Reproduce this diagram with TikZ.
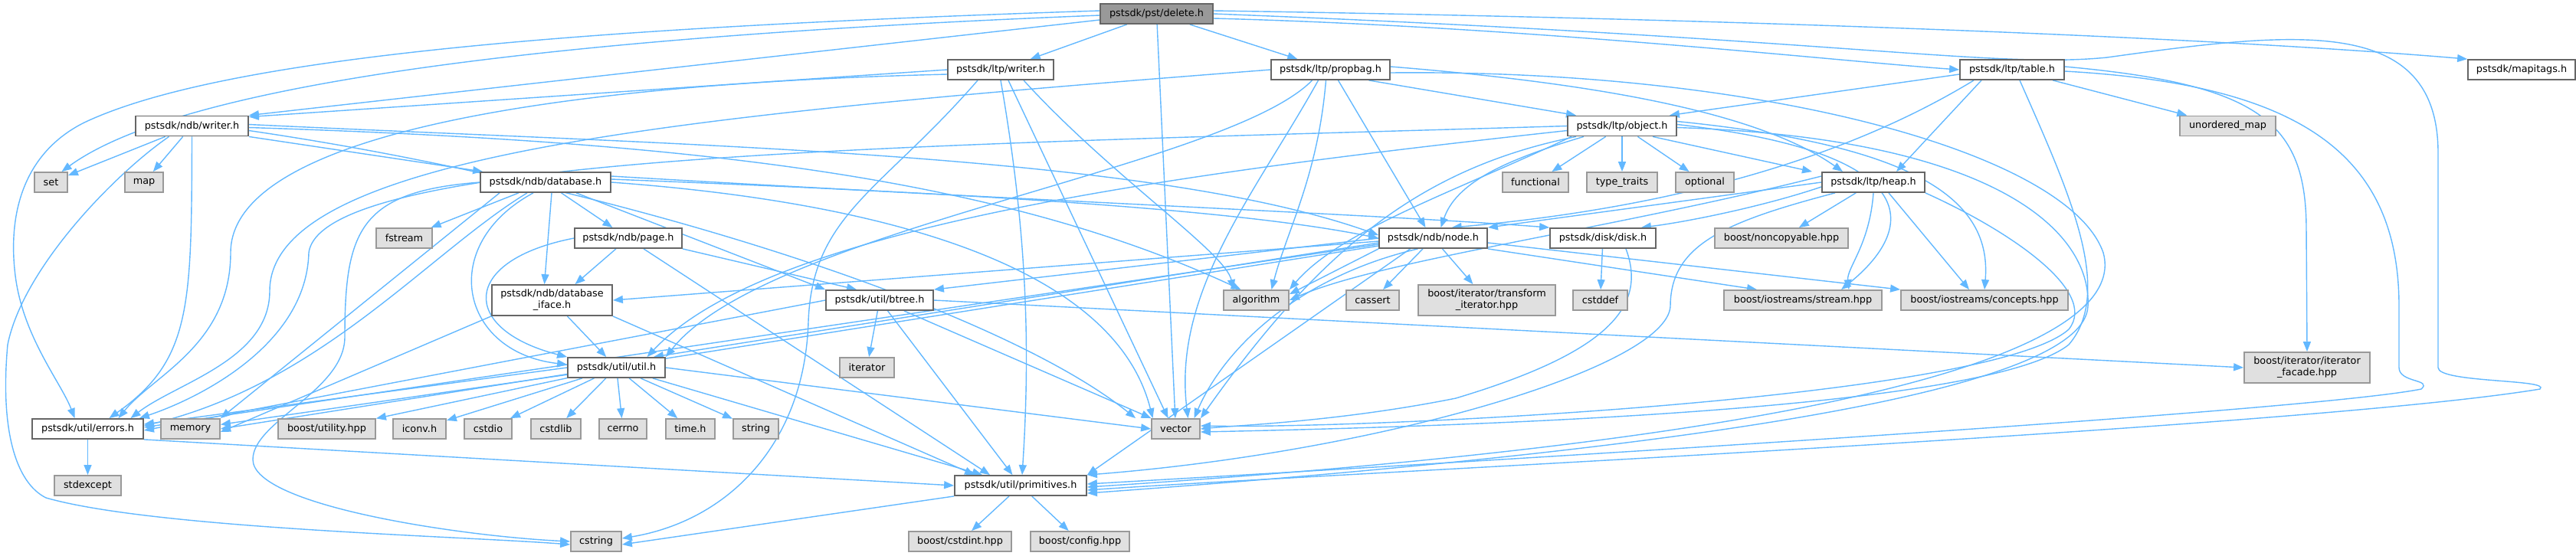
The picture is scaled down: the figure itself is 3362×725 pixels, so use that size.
\documentclass[tikz,border=0pt]{standalone}
\usepackage{fontspec}
\setmainfont{DejaVu Sans}
\usetikzlibrary{arrows.meta}
\definecolor{edgec}{HTML}{63B8FF}
\definecolor{boxb}{HTML}{666666}
\definecolor{extb}{HTML}{999999}
\definecolor{extf}{HTML}{E0E0E0}
\definecolor{mainf}{HTML}{999999}
\pgfdeclarelayer{bg}
\pgfsetlayers{bg,main}
\tikzset{
  e/.style={draw=edgec, line width=0.7pt, -{Triangle[length=6.5pt,width=5pt]}},
  box/.style={draw=boxb, fill=white, line width=0.9pt, rectangle, inner sep=1pt,
     minimum height=13pt, font=\fontsize{6.4}{7.5}\selectfont, align=center},
  ext/.style={box, draw=extb, fill=extf},
  mainbox/.style={box, draw=boxb, fill=mainf},
  two/.style={minimum height=20pt}
}
\begin{document}
\begin{tikzpicture}[x=0.5pt,y=-0.5pt]
\useasboundingbox (0,0) rectangle (3362,725);
% row 0
\node[mainbox, minimum width=73.5pt] (delete) at (1509.5,18) {pstsdk/pst/delete.h};
% row 1
\node[box, minimum width=69pt] (ltpwriter) at (1306,91) {pstsdk/ltp/writer.h};
\node[box, minimum width=77.5pt] (propbag) at (1736.5,91) {pstsdk/ltp/propbag.h};
\node[box, minimum width=68pt] (table) at (2626,91) {pstsdk/ltp/table.h};
\node[box, minimum width=70pt] (mapitags) at (3291,91) {pstsdk/mapitags.h};
% row 2
\node[box, minimum width=73.5pt] (ndbwriter) at (250.5,164.5) {pstsdk/ndb/writer.h};
\node[box, minimum width=71pt] (object) at (2117,164.5) {pstsdk/ltp/object.h};
\node[ext, minimum width=62.5pt] (umap) at (2907.5,164.5) {unordered\_map};
% row 3
\node[ext, minimum width=21.5pt] (set) at (66.5,238) {set};
\node[ext, minimum width=25pt] (map) at (188,238) {map};
\node[box, minimum width=85pt] (database) at (712,238) {pstsdk/ndb/database.h};
\node[ext, minimum width=43pt] (functional) at (2004,238) {functional};
\node[ext, minimum width=46pt] (typetraits) at (2117,238) {type\_traits};
\node[ext, minimum width=38pt] (optional) at (2225,238) {optional};
\node[box, minimum width=67pt] (heap) at (2445,238) {pstsdk/ltp/heap.h};
% row 4
\node[ext, minimum width=36.5pt] (fstream) at (527.5,311) {fstream};
\node[box, minimum width=70pt] (page) at (820,311) {pstsdk/ndb/page.h};
\node[box, minimum width=70.5pt] (node) at (1870.5,311) {pstsdk/ndb/node.h};
\node[box, minimum width=69pt] (disk) at (2092,311) {pstsdk/disk/disk.h};
\node[ext, minimum width=87pt] (noncopy) at (2325,311) {boost/noncopyable.hpp};
% row 5
\node[box, two, minimum width=78.5pt] (iface) at (720.5,392) {pstsdk/ndb/database\\\_iface.h};
\node[box, minimum width=70pt] (btree) at (1148,392) {pstsdk/util/btree.h};
\node[ext, minimum width=42.5pt] (algorithm) at (1639.5,392) {algorithm};
\node[ext, minimum width=34.5pt] (cassert) at (1791.5,392) {cassert};
\node[ext, two, minimum width=89.5pt] (transform) at (1940.5,392) {boost/iterator/transform\\\_iterator.hpp};
\node[ext, minimum width=35.5pt] (cstddef) at (2088.5,392) {cstddef};
\node[ext, minimum width=103pt] (stream) at (2353,392) {boost/iostreams/stream.hpp};
\node[ext, minimum width=109pt] (concepts) at (2590,392) {boost/iostreams/concepts.hpp};
% row 6
\node[box, minimum width=63.5pt] (util) at (804.5,480) {pstsdk/util/util.h};
\node[ext, minimum width=35.5pt] (iterator) at (1131.5,480) {iterator};
\node[ext, two, minimum width=82pt] (facade) at (3011,480) {boost/iterator/iterator\\\_facade.hpp};
% row 7
\node[box, minimum width=72.5pt] (errors) at (114.5,560) {pstsdk/util/errors.h};
\node[ext, minimum width=38.5pt] (memory) at (248.5,560) {memory};
\node[ext, minimum width=63.5pt] (utility) at (426.5,560) {boost/utility.hpp};
\node[ext, minimum width=34.5pt] (iconv) at (547.5,560) {iconv.h};
\node[ext, minimum width=31pt] (cstdio) at (637,560) {cstdio};
\node[ext, minimum width=32.5pt] (cstdlib) at (725.5,560) {cstdlib};
\node[ext, minimum width=31pt] (cerrno) at (813,560) {cerrno};
\node[ext, minimum width=32pt] (timeh) at (901,560) {time.h};
\node[ext, minimum width=29.5pt] (string) at (986.5,560) {string};
\node[ext, minimum width=31.5pt] (vector) at (1534.5,560) {vector};
% row 8
\node[ext, minimum width=43.5pt] (stdexcept) at (114.5,634) {stdexcept};
\node[box, minimum width=86pt] (prim) at (1332,634) {pstsdk/util/primitives.h};
% row 9
\node[ext, minimum width=33pt] (cstring) at (778,707) {cstring};
\node[ext, minimum width=67pt] (cstdint) at (1253,707) {boost/cstdint.hpp};
\node[ext, minimum width=64.5pt] (config) at (1409.5,707) {boost/config.hpp};

\begin{pgfonlayer}{bg}
% delete.h
\draw[e] (delete) -- (ltpwriter);
\draw[e] (delete) -- (propbag);
\draw[e] ([yshift=-3pt]delete.east) .. controls (2000,35) and (2400,80) .. (table.west);
\draw[e] ([yshift=2pt]delete.east) .. controls (2300,25) and (2900,50) .. (mapitags.north west);
\draw[e] ([yshift=-4pt]delete.west) -- (ndbwriter.north east);
\draw[e] ([yshift=-1pt]delete.west) .. controls (800,45) and (250,100) .. ([xshift=7pt]set.north);
\draw[e] ([yshift=2pt]delete.west) .. controls (800,35) and (300,70) .. (110,160) .. controls (30,200) and (10,280) .. (20,360) .. controls (30,440) and (80,500) .. ([xshift=-8.5pt]errors.north);
\draw[e] (delete) -- (vector);
\draw[e] (delete.east) .. controls (2400,50) and (2600,90) .. (2750,75) .. controls (3000,40) and (3182,20) .. (3182,200) -- (3182,480) .. controls (3182,500) and (3330,495) .. (3315,508) .. controls (3000,560) and (1700,620) .. ([yshift=-3pt]prim.east);
% ltp/writer.h
\draw[e] (ltpwriter.west) -- ([yshift=-1pt]ndbwriter.north east);
\draw[e] ([yshift=-3pt]ltpwriter.west) .. controls (700,110) and (301,180) .. (301,330) .. controls (301,450) and (200,490) .. ([xshift=20pt]errors.north);
\draw[e] ([xshift=-15pt]ltpwriter.south) .. controls (1150,250) and (1060,280) .. (1055,420) .. controls (1050,580) and (950,680) .. ([yshift=2pt]cstring.east);
\draw[e] (ltpwriter.south) .. controls (1340,300) and (1345,450) .. ([xshift=1pt]prim.north);
\draw[e] ([xshift=5pt]ltpwriter.south) -- ([xshift=-5pt]vector.north);
\draw[e] ([xshift=15pt]ltpwriter.south) .. controls (1450,230) and (1600,330) .. ([xshift=-15pt]algorithm.north);
% propbag
\draw[e] ([xshift=25pt]propbag.south) -- ([xshift=-30pt]object.north);
\draw[e] ([yshift=2pt]propbag.east) .. controls (2100,110) and (2300,150) .. ([xshift=-20pt]heap.north);
\draw[e] ([xshift=5pt]propbag.south) -- ([xshift=-5pt]node.north);
\draw[e] ([xshift=-8pt]propbag.south) .. controls (1640,250) and (1530,380) .. ([xshift=8pt]vector.north);
\draw[e] ([xshift=-3pt]propbag.south) .. controls (1720,230) and (1680,300) .. ([xshift=10pt]algorithm.north);
\draw[e] ([xshift=-12pt]propbag.south) .. controls (1600,220) and (1000,300) .. (util.north east);
\draw[e] (propbag.west) .. controls (900,150) and (352,200) .. (352,380) .. controls (352,470) and (230,500) .. ([xshift=28pt]errors.north);
\draw[e] ([yshift=-2pt]propbag.east) .. controls (2300,90) and (2700,200) .. (2745,330) .. controls (2770,420) and (2600,560) .. ([yshift=-1pt]prim.east);
% table
\draw[e] ([yshift=-3pt]table.west) -- ([xshift=-5pt]object.north east);
\draw[e] ([xshift=-20pt]table.south) -- ([xshift=15pt]heap.north);
\draw[e] ([xshift=-25pt]table.south) .. controls (2420,200) and (2200,270) .. (node.30);
\draw[e] (table) -- (umap);
\draw[e] ([yshift=2pt]table.east) .. controls (2950,110) and (3010,160) .. (3010,300) -- (facade.north);
\draw[e] ([yshift=-1pt]table.east) .. controls (3000,110) and (3131,200) .. (3131,400) -- (3131,480) .. controls (3131,500) and (3175,495) .. (3160,508) .. controls (3000,540) and (1800,610) .. ([yshift=1pt]prim.east);
\draw[e] ([xshift=5pt]table.south) .. controls (2700,250) and (2760,380) .. (2700,450) .. controls (2600,530) and (2000,555) .. ([yshift=-2pt]vector.east);
% object
\draw[e] (object) -- (functional);
\draw[e] (object) -- (typetraits);
\draw[e] (object) -- (optional);
\draw[e] ([xshift=20pt]object.south) -- ([xshift=-40pt]heap.north);
\draw[e] ([xshift=-25pt]object.south) .. controls (1960,210) and (1900,240) .. ([xshift=5pt]node.north);
\draw[e] ([xshift=-30pt]object.south) .. controls (1850,220) and (1720,330) .. (vector.north east);
\draw[e] (object.west) .. controls (1200,190) and (420,200) .. (403,330) .. controls (400,450) and (260,520) .. ([xshift=-3pt]errors.north east);
\draw[e] ([yshift=-3pt]object.west) .. controls (1500,230) and (1000,300) .. ([xshift=20pt]util.north);
\draw[e] ([yshift=3pt]object.east) .. controls (2500,190) and (2600,260) .. (concepts.north);
\draw[e] ([yshift=1pt]object.east) .. controls (2520,200) and (2500,300) .. ([xshift=25pt]stream.north);
\draw[e] ([yshift=-1pt]object.east) .. controls (2600,180) and (2730,300) .. (2725,400) .. controls (2720,500) and (2300,580) .. ([yshift=-5pt]prim.east);
\draw[e] ([xshift=-33pt]object.south) .. controls (1900,250) and (1750,300) .. (algorithm.north east);
% heap
\draw[e] (heap.west) -- (node.north east);
\draw[e] ([yshift=-3pt]heap.west) .. controls (2300,270) and (2200,290) .. ([xshift=-10pt]disk.north east);
\draw[e] (heap) -- (noncopy);
\draw[e] (heap.south) .. controls (2440,320) and (2410,350) .. ([xshift=30pt]stream.north);
\draw[e] ([xshift=10pt]heap.south) -- ([xshift=-10pt]concepts.north);
\draw[e] ([yshift=4pt]heap.west) .. controls (2100,300) and (1800,340) .. (algorithm.east);
\draw[e] (heap.south east) .. controls (2620,300) and (2740,380) .. (2700,430) .. controls (2600,520) and (1800,560) .. ([yshift=2pt]vector.east);
\draw[e] ([xshift=-25pt]heap.south) .. controls (2250,290) and (2180,320) .. (2180,400) .. controls (2175,480) and (1800,590) .. (prim.north east);
% node
\draw[e] (node) -- (cassert);
\draw[e] (node) -- (transform);
\draw[e] (node.south west) -- ([yshift=-3pt]algorithm.north east);
\draw[e] ([xshift=-10pt]node.south) .. controls (1700,360) and (1600,450) .. ([xshift=12pt]vector.north);
\draw[e] (node.west) -- (btree.north east);
\draw[e] ([yshift=-2pt]node.west) -- (iface.east);
\draw[e] ([yshift=-3pt]node.west) -- ([xshift=-8pt]util.north east);
\draw[e] ([yshift=-4pt]node.west) -- ([yshift=1pt]errors.east);
\draw[e] ([yshift=-5pt]node.west) -- (memory.east);
\draw[e] ([xshift=-15pt]node.south) -- (prim.north east);
\draw[e] (node.south east) -- ([xshift=-30pt]stream.north);
\draw[e] ([yshift=-3pt]node.east) -- (concepts.north west);
% disk
\draw[e] (disk) -- (cstddef);
\draw[e] ([xshift=15pt]disk.south) .. controls (2150,400) and (2100,460) .. (1900,520) .. controls (1750,550) and (1620,555) .. (vector.east);
% database
\draw[e] (database) -- (fstream);
\draw[e] (database) -- (page);
\draw[e] ([xshift=4pt]database.south) -- ([xshift=-5pt]iface.north);
\draw[e] ([xshift=-8pt]database.south) .. controls (570,320) and (600,460) .. ([yshift=2pt]util.west);
\draw[e] ([xshift=-12pt]database.south) .. controls (560,330) and (420,500) .. ([yshift=2pt]errors.east);
\draw[e] (database.west) .. controls (470,250) and (450,300) .. (450,440) .. controls (450,510) and (330,550) .. (330,600) .. controls (330,660) and (600,700) .. (cstring.west);
\draw[e] ([yshift=2pt]database.east) .. controls (1200,250) and (1600,270) .. (node.west);
\draw[e] ([yshift=4pt]database.east) .. controls (1300,260) and (1800,280) .. (disk.north west);
\draw[e] ([xshift=20pt]database.south) -- (btree.north west);
\draw[e] (database.east) .. controls (1100,260) and (1450,330) .. ([xshift=-15pt]vector.north);
\draw[e] ([xshift=-30pt]database.south) -- (memory.north east);
% page
\draw[e] (page) -- ([xshift=15pt]iface.north);
\draw[e] (page.west) .. controls (600,340) and (600,430) .. (util.north west);
\draw[e] (page.south east) -- ([xshift=-15pt]btree.north);
\draw[e] ([xshift=10pt]page.south) -- ([xshift=-20pt]prim.north);
% ndb/writer.h
\draw[e] (ndbwriter) -- (set);
\draw[e] (ndbwriter) -- (map);
\draw[e] (ndbwriter.south east) -- ([xshift=2pt]database.north west);
\draw[e] (ndbwriter.south) .. controls (250,400) and (250,470) .. ([xshift=14pt]errors.north);
\draw[e] ([xshift=-15pt]ndbwriter.south) .. controls (150,227) and (30,350) .. (10,450) .. controls (0,560) and (20,630) .. (60,650) .. controls (200,690) and (600,700) .. ([yshift=-2pt]cstring.west);
\draw[e] ([yshift=1pt]ndbwriter.east) .. controls (900,190) and (1500,200) .. ([yshift=2pt]node.west);
\draw[e] ([yshift=-1pt]ndbwriter.east) .. controls (900,185) and (1300,230) .. ([xshift=-10pt]algorithm.north);
\draw[e] ([yshift=-3pt]ndbwriter.east) .. controls (800,240) and (1300,400) .. ([xshift=-10pt]vector.north west);
% database_iface
\draw[e] (iface.south west) -- ([yshift=-2pt]memory.east);
\draw[e] (iface) -- (util);
\draw[e] (iface.south east) -- ([xshift=-30pt]prim.north);
% btree
\draw[e] (btree) -- (iterator);
\draw[e] (btree) -- (vector);
\draw[e] (btree) -- (prim);
\draw[e] (btree.east) -- (facade.west);
\draw[e] (btree.west) -- ([yshift=-1pt]errors.east);
% util
\draw[e] (util.west) -- ([yshift=3pt]errors.east);
\draw[e] (util) -- (memory);
\draw[e] (util) -- (utility);
\draw[e] (util) -- (iconv);
\draw[e] (util) -- (cstdio);
\draw[e] (util) -- (cstdlib);
\draw[e] (util) -- (cerrno);
\draw[e] (util) -- (timeh);
\draw[e] (util) -- (string);
\draw[e] (util.east) -- (vector.west);
\draw[e] (util) -- ([xshift=-25pt]prim.north);
% errors, primitives
\draw[e] (errors) -- (stdexcept);
\draw[e] (errors.south east) -- (prim.west);
\draw[e] (prim) -- (cstdint);
\draw[e] (prim) -- (config);
\draw[e] (prim.south west) -- ([yshift=-2pt]cstring.east);
\end{pgfonlayer}
\end{tikzpicture}
\end{document}
